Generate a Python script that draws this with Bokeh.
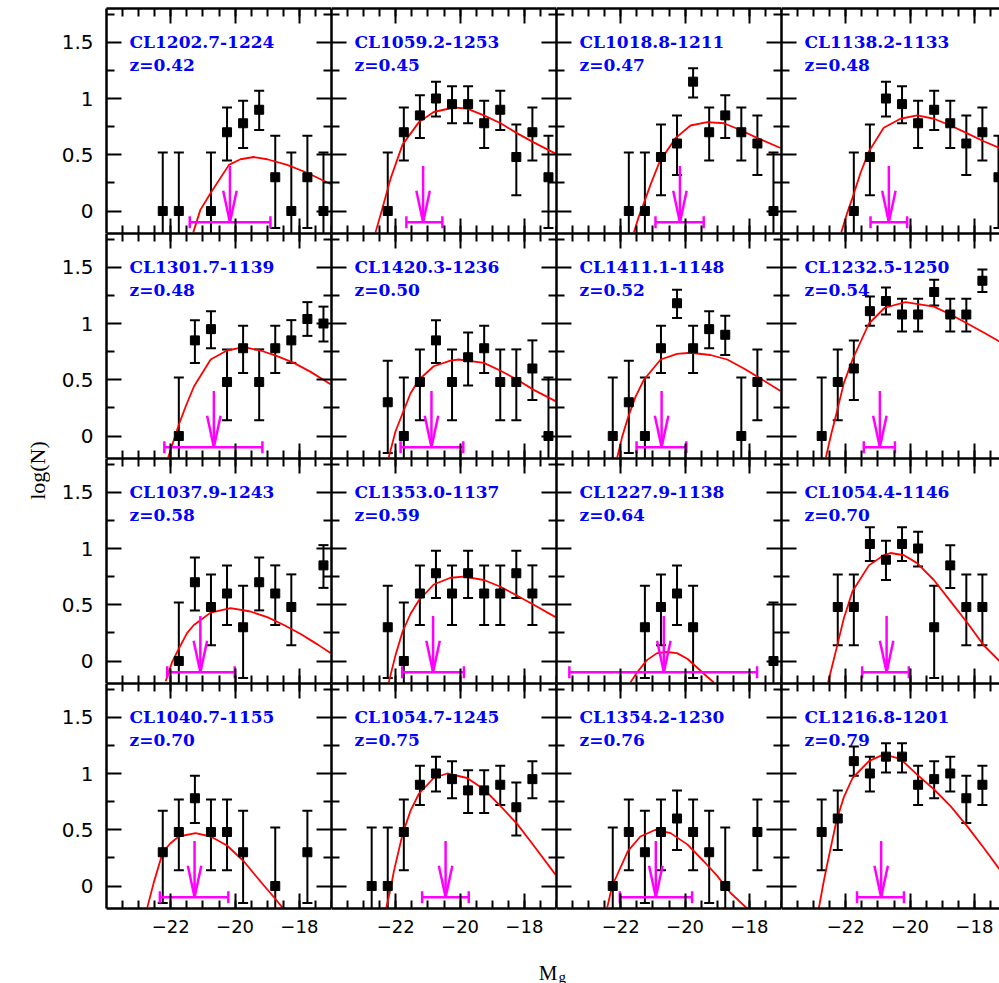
import math
from bokeh.plotting import figure
from bokeh.layouts import row, column
from bokeh.models import ColumnDataSource, LinearAxis, FixedTicker, Range1d, Label
from bokeh.embed import file_html
from bokeh.resources import INLINE

# ---------------- data ----------------
NAMES = ["CL1202.7-1224", "CL1059.2-1253", "CL1018.8-1211", "CL1138.2-1133",
         "CL1301.7-1139", "CL1420.3-1236", "CL1411.1-1148", "CL1232.5-1250",
         "CL1037.9-1243", "CL1353.0-1137", "CL1227.9-1138", "CL1054.4-1146",
         "CL1040.7-1155", "CL1054.7-1245", "CL1354.2-1230", "CL1216.8-1201"]
REDSHIFTS = [0.42, 0.45, 0.47, 0.48, 0.48, 0.50, 0.52, 0.54,
             0.58, 0.59, 0.64, 0.70, 0.70, 0.75, 0.76, 0.79]

MAGS = [
    [-22.25, -21.75, -20.75, -20.25, -19.75, -19.25, -18.75, -18.25, -17.75, -17.25],
    [-22.25, -21.75, -21.25, -20.75, -20.25, -19.75, -19.25, -18.75, -18.25, -17.75, -17.25],
    [-21.75, -21.25, -20.75, -20.25, -19.75, -19.25, -18.75, -18.25, -17.75, -17.25],
    [-21.75, -21.25, -20.75, -20.25, -19.75, -19.25, -18.75, -18.25, -17.75, -17.25],
    [-21.75, -21.25, -20.75, -20.25, -19.75, -19.25, -18.75, -18.25, -17.75, -17.25],
    [-22.25, -21.75, -21.25, -20.75, -20.25, -19.75, -19.25, -18.75, -18.25, -17.75, -17.25],
    [-22.25, -21.75, -21.25, -20.75, -20.25, -19.75, -19.25, -18.75, -18.25, -17.75],
    [-22.75, -22.25, -21.75, -21.25, -20.75, -20.25, -19.75, -19.25, -18.75, -18.25, -17.75],
    [-21.75, -21.25, -20.75, -20.25, -19.75, -19.25, -18.75, -18.25, -17.25],
    [-22.25, -21.75, -21.25, -20.75, -20.25, -19.75, -19.25, -18.75, -18.25, -17.75],
    [-21.25, -20.75, -20.25, -19.75, -17.25],
    [-22.25, -21.75, -21.25, -20.75, -20.25, -19.75, -19.25, -18.75, -18.25, -17.75],
    [-22.25, -21.75, -21.25, -20.75, -20.25, -19.75, -18.75, -17.75],
    [-22.75, -22.25, -21.75, -21.25, -20.75, -20.25, -19.75, -19.25, -18.75, -18.25, -17.75],
    [-22.25, -21.75, -21.25, -20.75, -20.25, -19.75, -19.25, -18.75, -17.75],
    [-22.75, -22.25, -21.75, -21.25, -20.75, -20.25, -19.75, -19.25, -18.75, -18.25, -17.75],
]
LOGN = [
    [0, 0, 0, 0.70, 0.78, 0.90, 0.30, 0, 0.30, 0],
    [0, 0.70, 0.85, 1.0, 0.95, 0.95, 0.78, 0.90, 0.48, 0.70, 0.30],
    [0, 0, 0.48, 0.60, 1.15, 0.70, 0.85, 0.70, 0.60, 0],
    [0, 0.48, 1.0, 0.95, 0.78, 0.90, 0.78, 0.60, 0.70, 0.30],
    [0, 0.85, 0.95, 0.48, 0.78, 0.48, 0.78, 0.85, 1.04, 1.0],
    [0.30, 0, 0.48, 0.85, 0.48, 0.70, 0.78, 0.48, 0.48, 0.60, 0],
    [0, 0.30, 0, 0.78, 1.18, 0.78, 0.95, 0.90, 0, 0.48],
    [0, 0.48, 0.60, 1.11, 1.20, 1.08, 1.08, 1.28, 1.08, 1.08, 1.38],
    [0, 0.70, 0.48, 0.60, 0.30, 0.70, 0.60, 0.48, 0.85],
    [0.30, 0, 0.60, 0.78, 0.60, 0.78, 0.60, 0.60, 0.78, 0.60],
    [0.30, 0.48, 0.60, 0.30, 0],
    [0.48, 0.48, 1.04, 0.90, 1.04, 1.0, 0.30, 0.85, 0.48, 0.48],
    [0.30, 0.48, 0.78, 0.48, 0.48, 0.30, 0, 0.30],
    [0, 0, 0.48, 0.90, 1.0, 0.95, 0.85, 0.85, 0.90, 0.70, 0.95],
    [0, 0.48, 0.30, 0.48, 0.60, 0.48, 0.30, 0, 0.48],
    [0.48, 0.60, 1.11, 1.0, 1.15, 1.15, 0.90, 0.95, 1.0, 0.78, 0.90],
]
ERR_HI = [
    [0.52, 0.52, 0.52, 0.92, 0.98, 1.07, 0.67, 0.52, 0.67, 0.52],
    [0.52, 0.92, 1.03, 1.15, 1.11, 1.11, 0.98, 1.07, 0.77, 0.92, 0.67],
    [0.52, 0.52, 0.77, 0.85, 1.27, 0.92, 1.03, 0.92, 0.85, 0.52],
    [0.52, 0.77, 1.15, 1.11, 0.98, 1.07, 0.98, 0.85, 0.92, 0.67],
    [0.52, 1.03, 1.11, 0.77, 0.98, 0.77, 0.98, 1.03, 1.19, 1.15],
    [0.67, 0.52, 0.77, 1.03, 0.77, 0.92, 0.98, 0.77, 0.77, 0.85, 0.52],
    [0.52, 0.67, 0.52, 0.98, 1.30, 0.98, 1.11, 1.07, 0.52, 0.77],
    [0.52, 0.77, 0.85, 1.24, 1.32, 1.22, 1.22, 1.39, 1.22, 1.22, 1.48],
    [0.52, 0.92, 0.77, 0.85, 0.67, 0.92, 0.85, 0.77, 1.03],
    [0.67, 0.52, 0.85, 0.98, 0.85, 0.98, 0.85, 0.85, 0.98, 0.85],
    [0.67, 0.77, 0.85, 0.67, 0.52],
    [0.77, 0.77, 1.19, 1.07, 1.19, 1.15, 0.67, 1.03, 0.77, 0.77],
    [0.67, 0.77, 0.98, 0.77, 0.77, 0.67, 0.52, 0.67],
    [0.52, 0.52, 0.77, 1.07, 1.15, 1.11, 1.03, 1.03, 1.07, 0.92, 1.11],
    [0.52, 0.77, 0.67, 0.77, 0.85, 0.77, 0.67, 0.52, 0.77],
    [0.77, 0.85, 1.24, 1.15, 1.27, 1.27, 1.07, 1.11, 1.15, 0.98, 1.07],
]
ERR_LO = [
    [-0.76, -0.76, -0.76, 0.45, 0.56, 0.72, -0.15, -0.76, -0.15, -0.76],
    [-0.76, 0.45, 0.65, 0.84, 0.78, 0.78, 0.56, 0.72, 0.14, 0.45, -0.15],
    [-0.76, -0.76, 0.14, 0.32, 1.01, 0.45, 0.65, 0.45, 0.32, -0.76],
    [-0.76, 0.14, 0.84, 0.78, 0.56, 0.72, 0.56, 0.32, 0.45, -0.15],
    [-0.76, 0.65, 0.78, 0.14, 0.56, 0.14, 0.56, 0.65, 0.89, 0.84],
    [-0.15, -0.76, 0.14, 0.65, 0.14, 0.45, 0.56, 0.14, 0.14, 0.32, -0.76],
    [-0.76, -0.15, -0.76, 0.56, 1.05, 0.56, 0.78, 0.72, -0.76, 0.14],
    [-0.76, 0.14, 0.32, 0.98, 1.08, 0.93, 0.93, 1.16, 0.93, 0.93, 1.28],
    [-0.76, 0.45, 0.14, 0.32, -0.15, 0.45, 0.32, 0.14, 0.65],
    [-0.15, -0.76, 0.32, 0.56, 0.32, 0.56, 0.32, 0.32, 0.56, 0.32],
    [-0.15, 0.14, 0.32, -0.15, -0.76],
    [0.14, 0.14, 0.89, 0.72, 0.89, 0.84, -0.15, 0.65, 0.14, 0.14],
    [-0.15, 0.14, 0.56, 0.14, 0.14, -0.15, -0.76, -0.15],
    [-0.76, -0.76, 0.14, 0.72, 0.84, 0.78, 0.65, 0.65, 0.72, 0.45, 0.78],
    [-0.76, 0.14, -0.15, 0.14, 0.32, 0.14, -0.15, -0.76, 0.14],
    [0.14, 0.32, 0.98, 0.84, 1.01, 1.01, 0.72, 0.78, 0.84, 0.56, 0.72],
]
CURVE_M = [
    [-21.30, -21.08, -20.76, -20.19, -19.83, -19.42, -19.00, -18.38, -17.76, -17.03],
    [-22.63, -22.42, -22.16, -21.79, -21.28, -20.82, -20.19, -19.78, -19.26, -18.74, -18.22, -17.71, -17.03],
    [-21.59, -21.44, -21.28, -21.08, -20.79, -20.29, -19.83, -19.31, -18.79, -18.28, -17.76, -17.03],
    [-22.14, -21.96, -21.80, -21.54, -21.28, -20.82, -20.30, -19.78, -19.26, -18.74, -18.22, -17.71, -17.22],
    [-22.08, -21.91, -21.75, -21.54, -21.28, -20.76, -20.25, -19.73, -19.21, -18.69, -18.17, -17.65, -17.03],
    [-22.22, -22.01, -21.79, -21.54, -21.28, -20.82, -20.30, -20.04, -19.26, -18.74, -18.22, -17.71, -17.03],
    [-22.11, -21.96, -21.78, -21.54, -21.28, -20.76, -20.25, -19.83, -19.21, -18.69, -18.17, -17.65, -17.03],
    [-22.62, -22.45, -22.29, -22.06, -21.79, -21.28, -20.79, -20.14, -19.26, -18.74, -18.22, -17.71, -17.22],
    [-22.16, -21.96, -21.75, -21.49, -21.28, -20.76, -20.14, -19.52, -19.00, -18.48, -17.96, -17.45, -17.03],
    [-22.22, -22.01, -21.79, -21.54, -21.28, -20.82, -20.30, -19.88, -19.26, -18.74, -18.22, -17.71, -17.03],
    [-21.70, -21.49, -21.18, -20.87, -20.56, -20.25, -19.93, -19.62, -19.31, -19.11],
    [-22.55, -22.42, -22.29, -22.06, -21.79, -21.28, -20.82, -20.61, -20.19, -19.78, -19.26, -18.74, -18.22, -17.71, -17.22],
    [-22.73, -22.53, -22.25, -22.01, -21.75, -21.23, -20.76, -20.25, -19.73, -19.21, -18.79, -18.53],
    [-22.30, -22.16, -22.06, -21.79, -21.54, -21.28, -20.82, -20.40, -19.78, -19.26, -18.74, -18.22, -17.71, -17.03],
    [-22.42, -22.27, -22.11, -21.78, -21.39, -20.92, -20.45, -19.93, -19.42, -19.00, -18.59, -18.07],
    [-22.84, -22.70, -22.58, -22.29, -22.06, -21.79, -21.28, -20.82, -20.30, -19.78, -19.26, -18.74, -18.22, -17.71, -17.22],
]
CURVE_LOGN = [
    [-0.19, 0.01, 0.16, 0.41, 0.46, 0.48, 0.46, 0.41, 0.34, 0.24],
    [-0.19, 0.02, 0.29, 0.59, 0.79, 0.88, 0.92, 0.91, 0.85, 0.78, 0.69, 0.61, 0.51],
    [-0.19, -0.05, 0.07, 0.23, 0.44, 0.65, 0.76, 0.79, 0.78, 0.72, 0.65, 0.56],
    [-0.19, -0.02, 0.11, 0.34, 0.53, 0.74, 0.82, 0.85, 0.82, 0.76, 0.69, 0.62, 0.56],
    [-0.19, -0.04, 0.10, 0.26, 0.44, 0.68, 0.76, 0.79, 0.76, 0.71, 0.65, 0.57, 0.46],
    [-0.19, 0.04, 0.20, 0.38, 0.50, 0.62, 0.67, 0.68, 0.65, 0.58, 0.50, 0.41, 0.31],
    [-0.19, -0.01, 0.16, 0.35, 0.50, 0.68, 0.73, 0.74, 0.72, 0.68, 0.60, 0.51, 0.40],
    [-0.19, 0.02, 0.20, 0.47, 0.68, 1.00, 1.14, 1.19, 1.15, 1.08, 1.00, 0.92, 0.84],
    [-0.18, -0.01, 0.11, 0.25, 0.32, 0.43, 0.47, 0.44, 0.39, 0.32, 0.24, 0.15, 0.07],
    [-0.19, 0.05, 0.26, 0.42, 0.54, 0.68, 0.74, 0.75, 0.72, 0.66, 0.58, 0.50, 0.39],
    [-0.19, -0.10, 0.01, 0.07, 0.08, 0.07, 0.02, -0.06, -0.14, -0.19],
    [-0.19, -0.04, 0.11, 0.38, 0.62, 0.85, 0.94, 0.96, 0.94, 0.87, 0.72, 0.53, 0.34, 0.14, 0.00],
    [-0.19, 0.03, 0.30, 0.38, 0.44, 0.47, 0.44, 0.36, 0.22, 0.04, -0.10, -0.19],
    [-0.20, -0.02, 0.13, 0.46, 0.67, 0.82, 0.96, 1.00, 0.96, 0.86, 0.71, 0.55, 0.36, 0.10],
    [-0.19, 0.00, 0.10, 0.31, 0.44, 0.50, 0.47, 0.37, 0.22, 0.09, -0.06, -0.20],
    [-0.20, 0.02, 0.19, 0.58, 0.79, 0.96, 1.11, 1.17, 1.13, 0.99, 0.86, 0.71, 0.53, 0.34, 0.15],
]
MSTAR = [-20.16, -21.15, -20.16, -20.66, -20.66, -20.89, -20.73, -20.94,
         -21.08, -20.84, -20.66, -20.73, -21.26, -20.45, -20.91, -20.90]
MSTAR_LO = [-21.41, -21.67, -20.92, -21.23, -22.20, -21.85, -21.51, -21.44,
            -22.11, -21.80, -23.60, -21.49, -22.34, -21.18, -22.03, -21.65]
MSTAR_HI = [-18.90, -20.55, -19.42, -20.09, -19.15, -19.90, -19.96, -20.47,
            -20.01, -19.88, -17.76, -20.04, -20.21, -19.73, -19.78, -20.19]

X_MAJOR = [-22, -20, -18]
Y_MAJOR = [0, 0.5, 1, 1.5]
X_TICK_LABELS = {-22: "\u221222", -20: "\u221220", -18: "\u221218"}
Y_TICK_LABELS = {0: "0", 0.5: "0.5", 1: "1", 1.5: "1.5"}

# ---------------- style / layout constants ----------------
X0, X1 = -24.0, -17.0
Y0, Y1 = -0.2, 1.8
X_MINOR_STEP = 0.5
Y_MINOR = [0.25, 0.75, 1.25, 1.75]
FRAME = 225
LAST_W = 218
YLAB_W = 50
LEFT_B = 56
TOP_B = 8
BOT_B = 40
XLAB_H = 35
ARROW_TOP, ARROW_TIP = 0.40, -0.10
HEAD_DX, HEAD_DY = 0.21, 0.28
MAGENTA = "#FF00FF"


def style_axis(ax, ticker, show, font_size="18px", standoff=10, overrides=None):
    ax.ticker = ticker
    ax.axis_line_width = 2.5
    ax.axis_line_color = "black"
    ax.major_tick_in = 15
    ax.major_tick_out = 0
    ax.minor_tick_in = 8
    ax.minor_tick_out = 0
    ax.major_tick_line_width = 2
    ax.minor_tick_line_width = 2
    ax.major_tick_line_color = "black"
    ax.minor_tick_line_color = "black"
    if show:
        ax.major_label_text_font = "DejaVu Sans"
        ax.major_label_text_font_size = font_size
        ax.major_label_text_color = "black"
        ax.major_label_standoff = standoff
        ax.major_label_overrides = overrides
    else:
        ax.major_label_text_font_size = "0px"
        ax.major_label_text_color = None
        ax.major_label_standoff = 0


def xt():
    n = int(round((X1 - X0) / X_MINOR_STEP))
    return FixedTicker(ticks=X_MAJOR,
                       minor_ticks=[X0 + X_MINOR_STEP * k for k in range(1, n + 1)])


def yt():
    return FixedTicker(ticks=Y_MAJOR, minor_ticks=Y_MINOR)


def make_panel(i):
    r, c = divmod(i, 4)
    fw = LAST_W if c == 3 else FRAME
    x_end = X0 + (X1 - X0) * fw / FRAME
    p = figure(frame_width=fw, frame_height=FRAME,
               x_range=Range1d(X0, x_end), y_range=Range1d(Y0, Y1),
               output_backend="svg", toolbar_location=None,
               min_border_left=LEFT_B if c == 0 else 0, min_border_right=0,
               min_border_top=TOP_B if r == 0 else 0,
               min_border_bottom=BOT_B if r == 3 else 0,
               outline_line_color=None, background_fill_color="white",
               border_fill_color="white")
    p.grid.visible = False

    style_axis(p.xaxis[0], xt(), r == 3, "18px", 11, X_TICK_LABELS)
    style_axis(p.yaxis[0], yt(), c == 0, "20px", 13, Y_TICK_LABELS)
    top = LinearAxis()
    style_axis(top, xt(), False)
    p.add_layout(top, "above")
    if c < 3:
        right = LinearAxis()
        style_axis(right, yt(), False)
        p.add_layout(right, "right")

    src = ColumnDataSource(dict(m=MAGS[i], n=LOGN[i], hi=ERR_HI[i], lo=ERR_LO[i]))
    p.segment(x0="m", y0="lo", x1="m", y1="hi", source=src,
              line_color="black", line_width=2)
    p.scatter(x="m", y="hi", source=src, marker="dash", size=10,
              line_color="black", line_width=2)
    p.scatter(x="m", y="lo", source=src, marker="dash", size=10,
              line_color="black", line_width=2)
    p.line(CURVE_M[i], CURVE_LOGN[i], line_color="red", line_width=1.8,
           line_join="round")
    p.scatter(x="m", y="n", source=src, marker="square", size=9,
              fill_color="black", line_color="black")

    ms = MSTAR[i]
    p.segment(x0=[ms], y0=[ARROW_TOP], x1=[ms], y1=[ARROW_TIP],
              line_color=MAGENTA, line_width=2.5)
    p.segment(x0=[ms, ms], y0=[ARROW_TIP, ARROW_TIP],
              x1=[ms - HEAD_DX, ms + HEAD_DX],
              y1=[ARROW_TIP + HEAD_DY, ARROW_TIP + HEAD_DY],
              line_color=MAGENTA, line_width=2.5)
    p.segment(x0=[MSTAR_LO[i]], y0=[ARROW_TIP], x1=[MSTAR_HI[i]], y1=[ARROW_TIP],
              line_color=MAGENTA, line_width=2.5)
    p.scatter(x=[MSTAR_LO[i], MSTAR_HI[i]], y=[ARROW_TIP, ARROW_TIP],
              marker="dash", angle=math.pi / 2, size=12,
              line_color=MAGENTA, line_width=2.5)

    for txt, off in ((NAMES[i], -33.5), ("z=%.2f" % REDSHIFTS[i], -56)):
        p.add_layout(Label(x=X0, y=Y1, x_offset=23, y_offset=off, text=txt,
                           text_font="DejaVu Serif", text_font_style="bold",
                           text_font_size="17px", text_color="blue",
                           text_baseline="alphabetic", text_align="left"))
    return p


panels = [make_panel(i) for i in range(16)]
rows = [row(*panels[4 * k:4 * k + 4]) for k in range(4)]

grid_w = LEFT_B + 3 * FRAME + LAST_W
xlab = figure(width=grid_w, height=XLAB_H, x_range=Range1d(0, grid_w),
              y_range=Range1d(0, XLAB_H), x_axis_type=None, y_axis_type=None,
              toolbar_location=None, output_backend="svg", min_border=0,
              outline_line_color=None)
xlab.grid.visible = False
xlab.add_layout(Label(x=507, y=11, text="M", text_font="Liberation Serif",
                      text_font_size="21px", text_align="right",
                      text_baseline="alphabetic", text_color="black"))
xlab.add_layout(Label(x=508, y=7, text="g", text_font="Liberation Serif",
                      text_font_size="15px", text_align="left",
                      text_baseline="alphabetic", text_color="black"))

total_h = TOP_B + 4 * FRAME + BOT_B + XLAB_H
ylab = figure(width=YLAB_W, height=total_h, x_range=Range1d(0, YLAB_W),
              y_range=Range1d(0, total_h), x_axis_type=None, y_axis_type=None,
              toolbar_location=None, output_backend="svg", min_border=0,
              outline_line_color=None)
ylab.grid.visible = False
ylab.add_layout(Label(x=37, y=total_h - 470, text="log(N)", angle=math.pi / 2,
                      text_font="Liberation Serif", text_font_size="22px",
                      text_align="center", text_baseline="middle",
                      text_color="black"))

layout = row(ylab, column(*rows, xlab))
open("out.html", "w").write(file_html(layout, INLINE))
